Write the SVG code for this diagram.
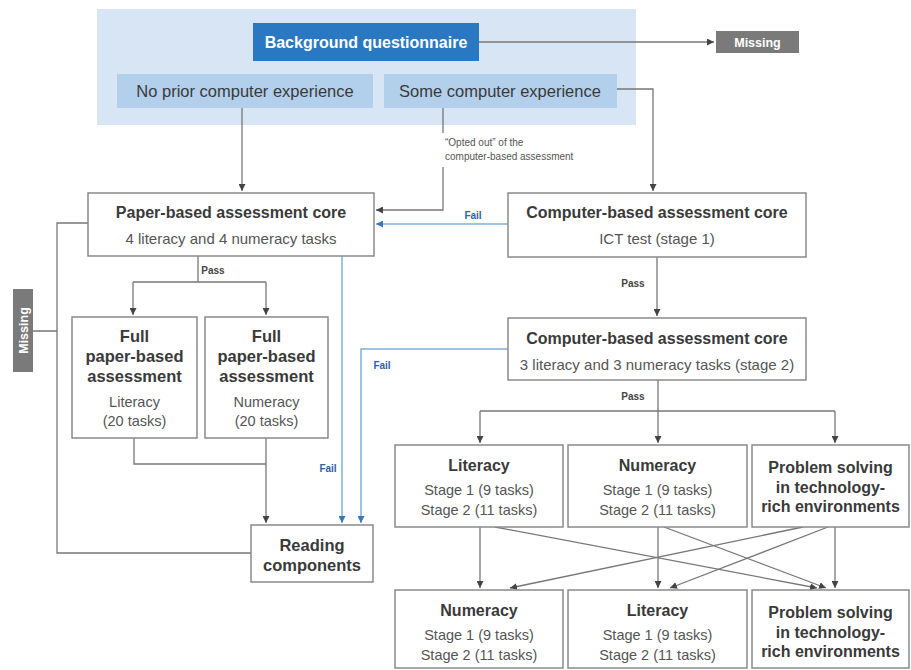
<svg xmlns="http://www.w3.org/2000/svg" width="911" height="670" viewBox="0 0 911 670">
<style>
text{font-family:"Liberation Sans",Arial,sans-serif;text-anchor:middle}
.box{fill:#fff;stroke:#8a8a8a;stroke-width:1.5}
.t{font-size:16px;font-weight:bold;fill:#3a3a3a}
.s{font-size:14.5px;fill:#555}
.ln{fill:none;stroke:#777;stroke-width:1.3}
.bl{fill:none;stroke:#7fb0de;stroke-width:1.5}
.lbl{font-size:10px;font-weight:bold;fill:#444}
.fail{font-size:10px;font-weight:bold;fill:#2d62aa}
.miss{font-size:12.5px;font-weight:bold;fill:#fff}
</style>
<defs>
<marker id="a" viewBox="0 0 8 8" refX="8" refY="4" markerWidth="7" markerHeight="7" markerUnits="userSpaceOnUse" orient="auto"><path d="M0,0L8,4L0,8z" fill="#444"/></marker>
<marker id="ab" viewBox="0 0 8 8" refX="8" refY="4" markerWidth="7" markerHeight="7" markerUnits="userSpaceOnUse" orient="auto"><path d="M0,0L8,4L0,8z" fill="#3a76b8"/></marker>
</defs>
<rect x="97" y="9" width="539" height="116" fill="#d7e5f4"/>
<g id="connectors">
<path class="ln" d="M479,42H714" marker-end="url(#a)"/>
<path class="ln" d="M617,89H653V191" marker-end="url(#a)"/>
<path class="ln" d="M242,108V191" marker-end="url(#a)"/>
<path class="ln" d="M443,108V133M443,167V210H376" marker-end="url(#a)"/>
<path class="bl" d="M508,224H376" marker-end="url(#ab)"/>
<path class="ln" d="M657,257V316" marker-end="url(#a)"/>
<path class="ln" d="M198,256V282M133,282H266"/>
<path class="ln" d="M133,282V315" marker-end="url(#a)"/>
<path class="ln" d="M266,282V315" marker-end="url(#a)"/>
<path class="ln" d="M134,438V464H266"/>
<path class="ln" d="M266,438V523" marker-end="url(#a)"/>
<path class="ln" d="M88,223H57V553H251M33,331H57"/>
<path class="bl" d="M342,256V523" marker-end="url(#ab)"/>
<path class="bl" d="M508,349H361V523" marker-end="url(#ab)"/>
<path class="ln" d="M658,380V443" marker-end="url(#a)"/>
<path class="ln" d="M480,411H835"/>
<path class="ln" d="M480,411V443" marker-end="url(#a)"/>
<path class="ln" d="M835,411V443" marker-end="url(#a)"/>
<path class="ln" d="M480,527V588" marker-end="url(#a)"/>
<path class="ln" d="M658,527V588" marker-end="url(#a)"/>
<path class="ln" d="M835,527V588" marker-end="url(#a)"/>
<path class="ln" d="M495,527L817,588" marker-end="url(#a)"/>
<path class="ln" d="M664,527L826,588" marker-end="url(#a)"/>
<path class="ln" d="M803,527L510,588" marker-end="url(#a)"/>
<path class="ln" d="M828,527L670,588" marker-end="url(#a)"/>
<text x="445" y="146" style="font-size:10px;fill:#555;text-anchor:start">“Opted out” of the</text>
<text x="445" y="160" style="font-size:10px;fill:#555;text-anchor:start">computer-based assessment</text>
<text class="fail" x="473" y="219">Fail</text>
<text class="lbl" x="633" y="287">Pass</text>
<text class="lbl" x="213" y="274">Pass</text>
<text class="fail" x="328" y="472">Fail</text>
<text class="fail" x="382" y="369">Fail</text>
<text class="lbl" x="633" y="400">Pass</text>
</g>
<g id="bq">
<rect x="253" y="23" width="226" height="38" fill="#2a78c2"/>
<text x="366" y="47.5" style="font-size:16px;font-weight:bold;fill:#fff">Background questionnaire</text>
</g>
<g id="noprior">
<rect x="117" y="74" width="256" height="34" fill="#b2cfeb"/>
<text x="245" y="97" style="font-size:16.5px;fill:#3a3a3a">No prior computer experience</text>
</g>
<g id="some">
<rect x="384" y="74" width="233" height="34" fill="#b2cfeb"/>
<text x="500" y="97" style="font-size:16.5px;fill:#3a3a3a">Some computer experience</text>
</g>
<g id="missing-top">
<rect x="716" y="31" width="83" height="22" fill="#7a7a7a"/>
<text class="miss" x="757.5" y="46.5">Missing</text>
</g>
<g id="missing-left">
<rect x="13" y="289" width="20" height="83" fill="#7a7a7a"/>
<text class="miss" transform="translate(27.5,330.5) rotate(-90)">Missing</text>
</g>
<g id="paper-core">
<rect class="box" x="88" y="193" width="286" height="63"/>
<text class="t" x="231" y="218">Paper-based assessment core</text>
<text class="s" x="231" y="244" style="font-size:15px">4 literacy and 4 numeracy tasks</text>
</g>
<g id="cba1">
<rect class="box" x="508" y="193" width="298" height="64"/>
<text class="t" x="657" y="218">Computer-based assessment core</text>
<text class="s" x="657" y="244" style="font-size:15px">ICT test (stage 1)</text>
</g>
<g id="cba2">
<rect class="box" x="508" y="318" width="298" height="62"/>
<text class="t" x="657" y="344">Computer-based assessment core</text>
<text class="s" x="657" y="370" style="font-size:15px">3 literacy and 3 numeracy tasks (stage 2)</text>
</g>
<g id="full-lit">
<rect class="box" x="72" y="317" width="125" height="121"/>
<text class="t" x="134.5" y="342" style="font-size:16.5px">Full</text>
<text class="t" x="134.5" y="362" style="font-size:16.5px">paper-based</text>
<text class="t" x="134.5" y="382" style="font-size:16.5px">assessment</text>
<text class="s" x="134.5" y="407">Literacy</text>
<text class="s" x="134.5" y="426">(20 tasks)</text>
</g>
<g id="full-num">
<rect class="box" x="205" y="317" width="123" height="121"/>
<text class="t" x="266.5" y="342" style="font-size:16.5px">Full</text>
<text class="t" x="266.5" y="362" style="font-size:16.5px">paper-based</text>
<text class="t" x="266.5" y="382" style="font-size:16.5px">assessment</text>
<text class="s" x="266.5" y="407">Numeracy</text>
<text class="s" x="266.5" y="426">(20 tasks)</text>
</g>
<g id="reading">
<rect class="box" x="251" y="525" width="122" height="57"/>
<text class="t" x="312" y="551" style="font-size:16.5px">Reading</text>
<text class="t" x="312" y="571" style="font-size:16.5px">components</text>
</g>
<g id="r1-lit">
<rect class="box" x="395" y="445" width="168" height="82"/>
<text class="t" x="479" y="471">Literacy</text>
<text class="s" x="479" y="495">Stage 1 (9 tasks)</text>
<text class="s" x="479" y="515">Stage 2 (11 tasks)</text>
</g>
<g id="r1-num">
<rect class="box" x="568" y="445" width="179" height="82"/>
<text class="t" x="657.5" y="471">Numeracy</text>
<text class="s" x="657.5" y="495">Stage 1 (9 tasks)</text>
<text class="s" x="657.5" y="515">Stage 2 (11 tasks)</text>
</g>
<g id="r1-ps">
<rect class="box" x="752" y="445" width="157" height="82"/>
<text class="t" x="830.5" y="473">Problem solving</text>
<text class="t" x="830.5" y="493">in technology-</text>
<text class="t" x="830.5" y="512">rich environments</text>
</g>
<g id="r2-num">
<rect class="box" x="395" y="590" width="168" height="78"/>
<text class="t" x="479" y="616">Numeracy</text>
<text class="s" x="479" y="640">Stage 1 (9 tasks)</text>
<text class="s" x="479" y="660">Stage 2 (11 tasks)</text>
</g>
<g id="r2-lit">
<rect class="box" x="568" y="590" width="179" height="78"/>
<text class="t" x="657.5" y="616">Literacy</text>
<text class="s" x="657.5" y="640">Stage 1 (9 tasks)</text>
<text class="s" x="657.5" y="660">Stage 2 (11 tasks)</text>
</g>
<g id="r2-ps">
<rect class="box" x="752" y="590" width="157" height="78"/>
<text class="t" x="830.5" y="618">Problem solving</text>
<text class="t" x="830.5" y="638">in technology-</text>
<text class="t" x="830.5" y="657">rich environments</text>
</g>
</svg>
